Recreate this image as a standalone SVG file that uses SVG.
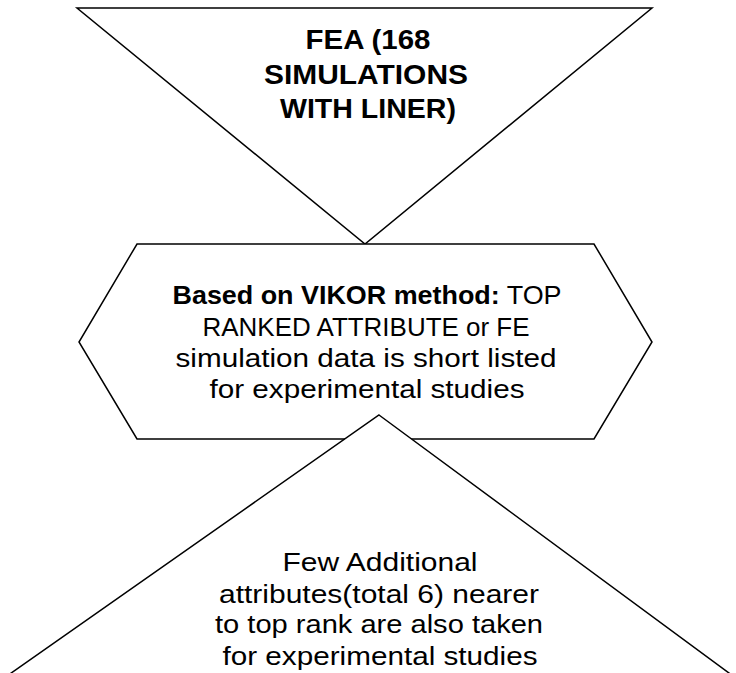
<svg xmlns="http://www.w3.org/2000/svg" width="736" height="673" viewBox="0 0 736 673">
<style>
.shape{fill:#fff;stroke:#000;stroke-width:1.5;stroke-linejoin:miter}
.t{font-family:"Liberation Sans",Arial,sans-serif;font-size:25px;fill:#000;text-anchor:middle}
.b{font-weight:bold}
.tb{font-family:"Liberation Sans",Arial,sans-serif;font-size:27px;font-weight:bold;fill:#000;text-anchor:middle}
</style>
<rect width="736" height="673" fill="#fff"/>
<g id="connectors"></g>
<g id="node-fea">
<polygon class="shape" points="77,8 652,8 365,244"/>
<text class="tb" x="368" y="49" textLength="125" lengthAdjust="spacingAndGlyphs">FEA (168</text>
<text class="tb" x="366" y="84" textLength="204" lengthAdjust="spacingAndGlyphs">SIMULATIONS</text>
<text class="tb" x="368" y="118" textLength="176" lengthAdjust="spacingAndGlyphs">WITH LINER)</text>
</g>
<g id="node-vikor">
<polygon class="shape" points="137,244 594,244 652,342 594,439 137,439 79,342"/>
<text class="t" x="367" y="304" textLength="389" lengthAdjust="spacingAndGlyphs"><tspan class="b">Based on VIKOR method:</tspan> TOP</text>
<text class="t" x="366" y="336" textLength="327" lengthAdjust="spacingAndGlyphs">RANKED ATTRIBUTE or FE</text>
<text class="t" x="366" y="367" textLength="381" lengthAdjust="spacingAndGlyphs">simulation data is short listed</text>
<text class="t" x="367" y="398" textLength="315" lengthAdjust="spacingAndGlyphs">for experimental studies</text>
</g>
<g id="node-additional">
<polygon class="shape" points="379,415 752,690 -13,690"/>
<text class="t" x="380" y="571" textLength="195" lengthAdjust="spacingAndGlyphs">Few Additional</text>
<text class="t" x="379" y="603" textLength="320" lengthAdjust="spacingAndGlyphs">attributes(total 6) nearer</text>
<text class="t" x="379" y="633" textLength="328" lengthAdjust="spacingAndGlyphs">to top rank are also taken</text>
<text class="t" x="380" y="665" textLength="315" lengthAdjust="spacingAndGlyphs">for experimental studies</text>
</g>
</svg>
